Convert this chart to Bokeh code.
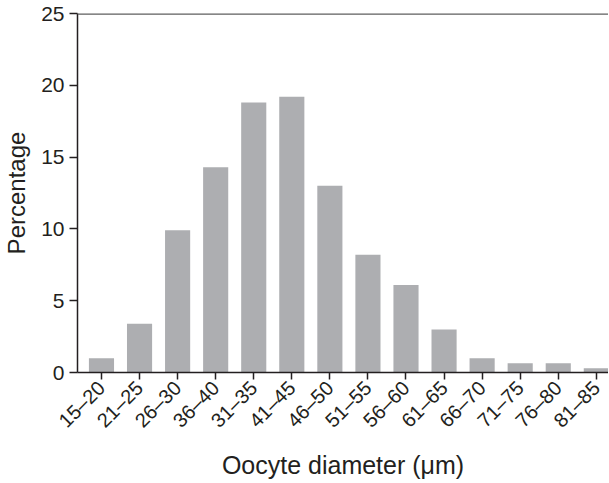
from bokeh.plotting import figure
from bokeh.models import Range1d, FixedTicker, ColumnDataSource, Span
from bokeh.embed import file_html
from bokeh.resources import INLINE
import math

categories = ["15\u201320", "21\u201325", "26\u201330", "36\u201340", "31\u201335", "41\u201345",
              "46\u201350", "51\u201355", "56\u201360", "61\u201365", "66\u201370", "71\u201375",
              "76\u201380", "81\u201385"]
percentages = [1.0, 3.4, 9.9, 14.3, 18.8, 19.2, 13.0, 8.2, 6.1, 3.0, 1.0, 0.65, 0.65, 0.3]
y_ticks = [0, 5, 10, 15, 20, 25]

idx = list(range(len(categories)))
src = ColumnDataSource(dict(x=idx, top=percentages))

TEXT = "#231f20"
FONT = "Liberation Sans"

p = figure(width=608, height=482, output_backend="svg", toolbar_location=None,
           x_range=Range1d(-0.63, 13.32), y_range=Range1d(0, 25),
           min_border_left=77, min_border_right=0, min_border_top=13, min_border_bottom=10)
p.vbar(x="x", top="top", width=0.66, source=src, fill_color="#adaeb1", line_color=None)

p.grid.visible = False
p.outline_line_color = None
p.background_fill_color = "white"
p.border_fill_color = "white"

p.add_layout(Span(location=25, dimension="width", line_color="#5e5e5e", line_width=2.5))

xa = p.below[0]
xa.ticker = FixedTicker(ticks=idx)
xa.major_label_overrides = {i: c for i, c in zip(idx, categories)}
xa.major_label_orientation = math.pi / 4
xa.major_label_text_font = FONT
xa.major_label_text_font_size = "20px"
xa.major_label_text_color = TEXT
xa.axis_line_color = TEXT
xa.axis_line_width = 1.5
xa.major_tick_line_color = TEXT
xa.major_tick_line_width = 1.5
xa.major_tick_in = 0
xa.major_tick_out = 7
xa.minor_tick_line_color = None
xa.axis_label = "Oocyte diameter (\u03bcm)"
xa.axis_label_text_font = FONT
xa.axis_label_text_font_size = "25px"
xa.axis_label_text_font_style = "normal"
xa.axis_label_text_color = TEXT
xa.axis_label_standoff = 9

ya = p.left[0]
ya.ticker = FixedTicker(ticks=y_ticks)
ya.major_label_text_font = FONT
ya.major_label_text_font_size = "21px"
ya.major_label_text_color = TEXT
ya.axis_line_color = TEXT
ya.axis_line_width = 1.5
ya.major_tick_line_color = TEXT
ya.major_tick_line_width = 1.5
ya.major_tick_in = 0
ya.major_tick_out = 8
ya.minor_tick_line_color = None
ya.axis_label = "Percentage"
ya.axis_label_text_font = FONT
ya.axis_label_text_font_size = "24px"
ya.axis_label_text_font_style = "normal"
ya.axis_label_text_color = TEXT
ya.axis_label_standoff = 8

open("out.html", "w").write(file_html(p, INLINE))
